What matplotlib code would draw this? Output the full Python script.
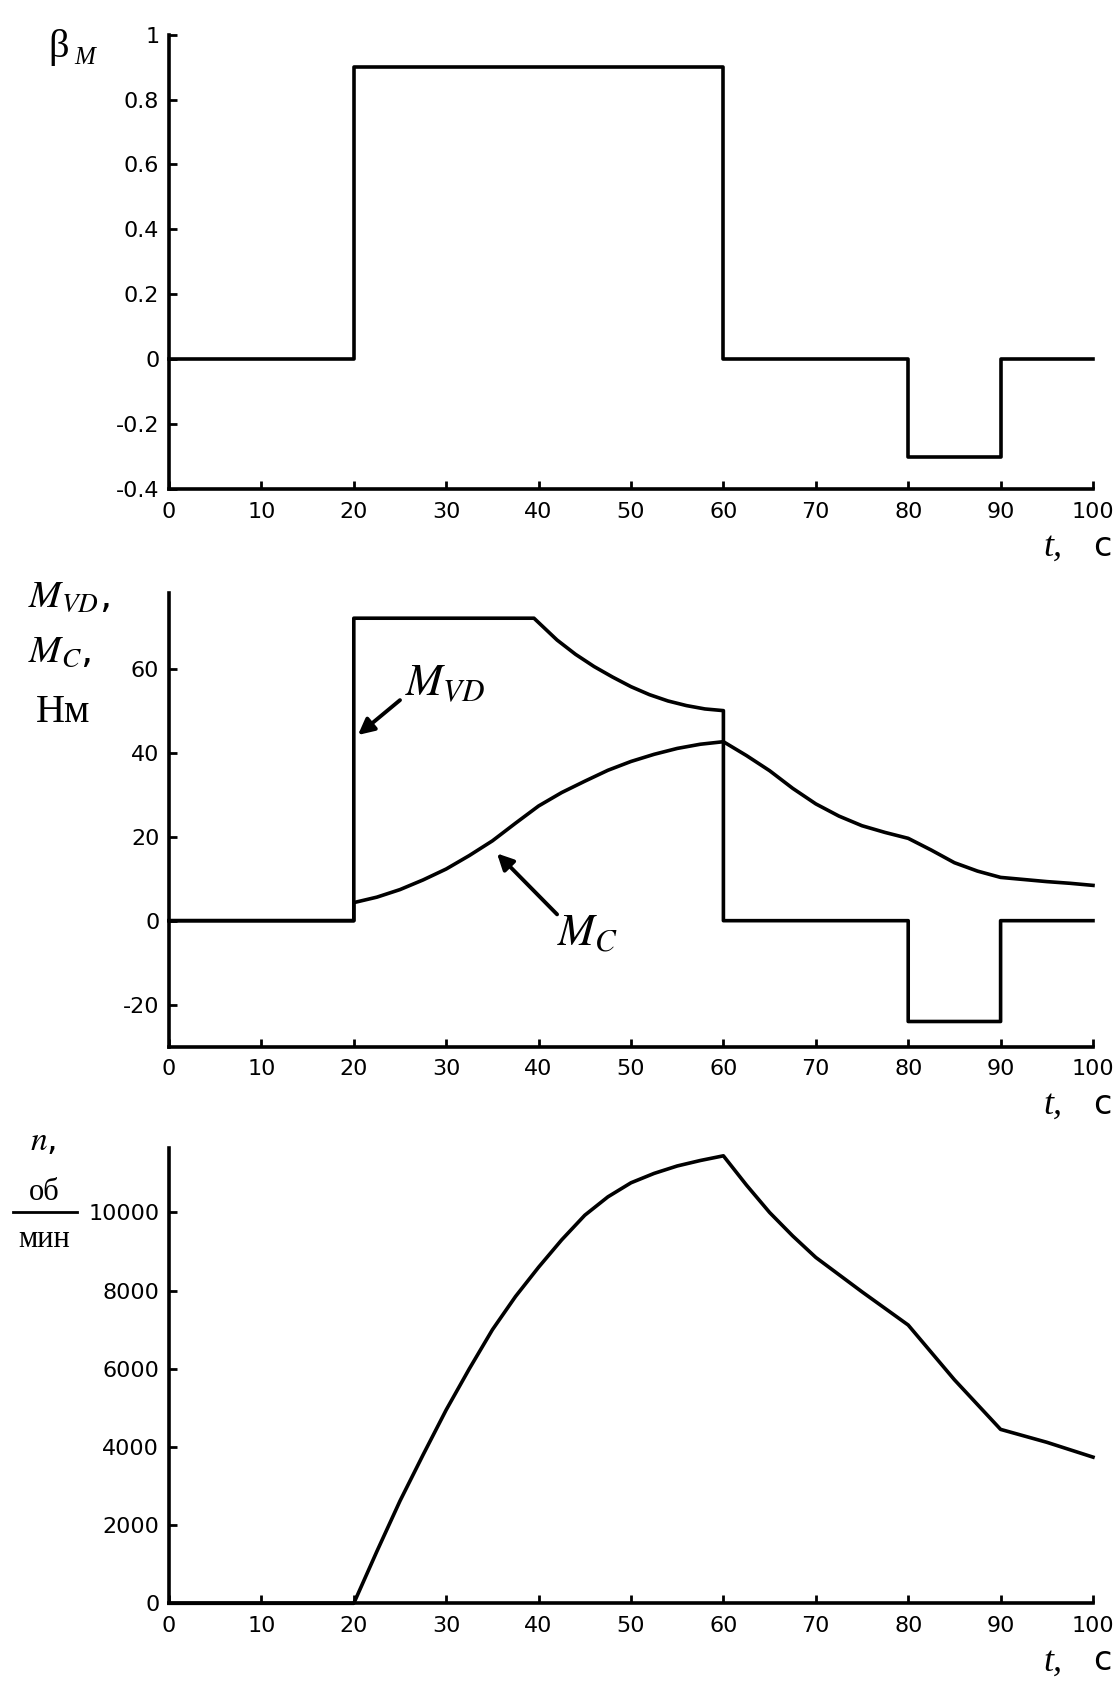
import matplotlib
matplotlib.use("Agg")
import matplotlib.pyplot as plt
from matplotlib.lines import Line2D

plt.rcParams['font.family'] = ['DejaVu Sans']
plt.rcParams['mathtext.fontset'] = 'stix'
plt.rcParams['axes.unicode_minus'] = False

# === Дані ===
t_beta = [0, 20, 20, 60, 60, 80, 80, 90, 90, 100]
beta_m = [0, 0, 0.9, 0.9, 0, 0, -0.3, -0.3, 0, 0]

t_mvd = [0, 20, 20, 39.5, 42, 44, 46, 48, 50, 52, 54, 56, 58, 60, 60, 80, 80, 90, 90, 100]
m_vd = [0, 0, 72, 72, 66.8, 63.4, 60.5, 58.0, 55.7, 53.8, 52.3, 51.2, 50.4, 50, 0, 0, -24, -24, 0, 0]

t_mc = [0, 20, 20, 22.5, 25, 27.5, 30, 32.5, 35, 37.5, 40, 42.5, 45, 47.5, 50, 52.5, 55, 57.5,
        60, 62.5, 65, 67.5, 70, 72.5, 75, 77.5, 80, 82.5, 85, 87.5, 90, 92.5, 95, 97.5, 100]
m_c = [0, 0, 4.3, 5.6, 7.4, 9.7, 12.3, 15.5, 19.0, 23.2, 27.3, 30.5, 33.2, 35.8, 37.9, 39.6, 41.0, 42.0,
       42.6, 39.3, 35.7, 31.5, 27.8, 24.9, 22.6, 21.0, 19.6, 16.8, 13.8, 11.8, 10.3, 9.8, 9.3, 8.9, 8.4]

t_n = [0, 20, 22.5, 25, 27.5, 30, 32.5, 35, 37.5, 40, 42.5, 45, 47.5, 50, 52.5, 55, 57.5, 60,
       62.5, 65, 67.5, 70, 75, 80, 85, 90, 95, 100]
n_rpm = [0, 0, 1330, 2620, 3800, 4950, 6000, 7000, 7850, 8600, 9300, 9930, 10400, 10760, 11000, 11190, 11330, 11450,
         10700, 10000, 9400, 8850, 7970, 7120, 5720, 4450, 4120, 3740]

x_ticks = list(range(0, 101, 10))
beta_ticks = [-0.4, -0.2, 0, 0.2, 0.4, 0.6, 0.8, 1]
beta_tick_labels = ['-0.4', '-0.2', '0', '0.2', '0.4', '0.6', '0.8', '1']
m_ticks = [-20, 0, 20, 40, 60]
n_ticks = [0, 2000, 4000, 6000, 8000, 10000]

W, H = 1120, 1685
fig = plt.figure(figsize=(W / 100, H / 100), dpi=100)
SERIF = ['Liberation Serif', 'DejaVu Serif']
LW = 2.6


def px(x, y):
    return x / W, 1 - y / H


def make_axes(top, bottom):
    ax = fig.add_axes([169 / W, 1 - bottom / H, (1093 - 169) / W, (bottom - top) / H])
    for s in ['top', 'right']:
        ax.spines[s].set_visible(False)
    for s in ['left', 'bottom']:
        ax.spines[s].set_linewidth(LW)
    ax.set_xlim(0, 100)
    ax.set_xticks(x_ticks)
    ax.tick_params(direction='in', length=6, width=2, labelsize=16)
    ax.tick_params(axis='x', pad=9)
    ax.tick_params(axis='y', pad=7)
    return ax


def t_label(axis_bottom):
    fig.text(*px(1043, axis_bottom + 67), 't,', fontsize=26, family=SERIF, style='italic', va='baseline')
    fig.text(*px(1093, axis_bottom + 67), 'с', fontsize=24, va='baseline')


# --- β_M ---
ax1 = make_axes(34.7, 489)
ax1.plot(t_beta, beta_m, color='k', lw=LW, clip_on=False)
ax1.set_ylim(-0.4, 1)
ax1.set_yticks(beta_ticks)
ax1.set_yticklabels(beta_tick_labels)
fig.text(*px(48, 57), 'β', fontsize=29, family=SERIF, va='baseline')
fig.text(*px(74, 64), 'M', fontsize=18, family=SERIF, style='italic', va='baseline')
t_label(489)

# --- M_VD, M_C ---
ax2 = make_axes(593, 1046.7)
ax2.plot(t_mvd, m_vd, color='k', lw=LW, clip_on=False)
ax2.plot(t_mc, m_c, color='k', lw=LW, clip_on=False)
ax2.set_ylim(-30, 78)
ax2.set_yticks(m_ticks)
ax2.annotate('', xy=(20.45, 44.2), xytext=(25, 52.5),
             arrowprops=dict(arrowstyle='-|>', color='k', lw=2.8, mutation_scale=24, shrinkA=0, shrinkB=0))
ax2.text(25.5, 53.7, r'$M_{VD}$', fontsize=32, va='baseline')
ax2.annotate('', xy=(35.5, 16), xytext=(42, 1.5),
             arrowprops=dict(arrowstyle='-|>', color='k', lw=2.8, mutation_scale=24, shrinkA=0, shrinkB=0))
ax2.text(42, -5.8, r'$M_{C}$', fontsize=32, va='baseline')
fig.text(*px(28, 607), r'$M_{VD}$,', fontsize=28, va='baseline')
fig.text(*px(28, 662), r'$M_{C}$,', fontsize=28, va='baseline')
fig.text(*px(36, 722), 'Нм', fontsize=29, family=SERIF, va='baseline')
t_label(1046.7)

# --- n ---
ax3 = make_axes(1148, 1603.3)
ax3.plot(t_n, n_rpm, color='k', lw=LW, clip_on=False)
ax3.set_ylim(0, 11650)
ax3.set_yticks(n_ticks)
fig.text(*px(30, 1150), r'$n$,', fontsize=24, va='baseline')
fig.text(*px(44, 1200), 'об', fontsize=22, family=SERIF, ha='center', va='baseline')
fig.add_artist(Line2D([13 / W, 77 / W], [1 - 1212 / H, 1 - 1212 / H], color='k', lw=2))
fig.text(*px(44, 1247), 'мин', fontsize=22, family=SERIF, ha='center', va='baseline')
t_label(1603.3)

fig.savefig('out.png', dpi=100)
